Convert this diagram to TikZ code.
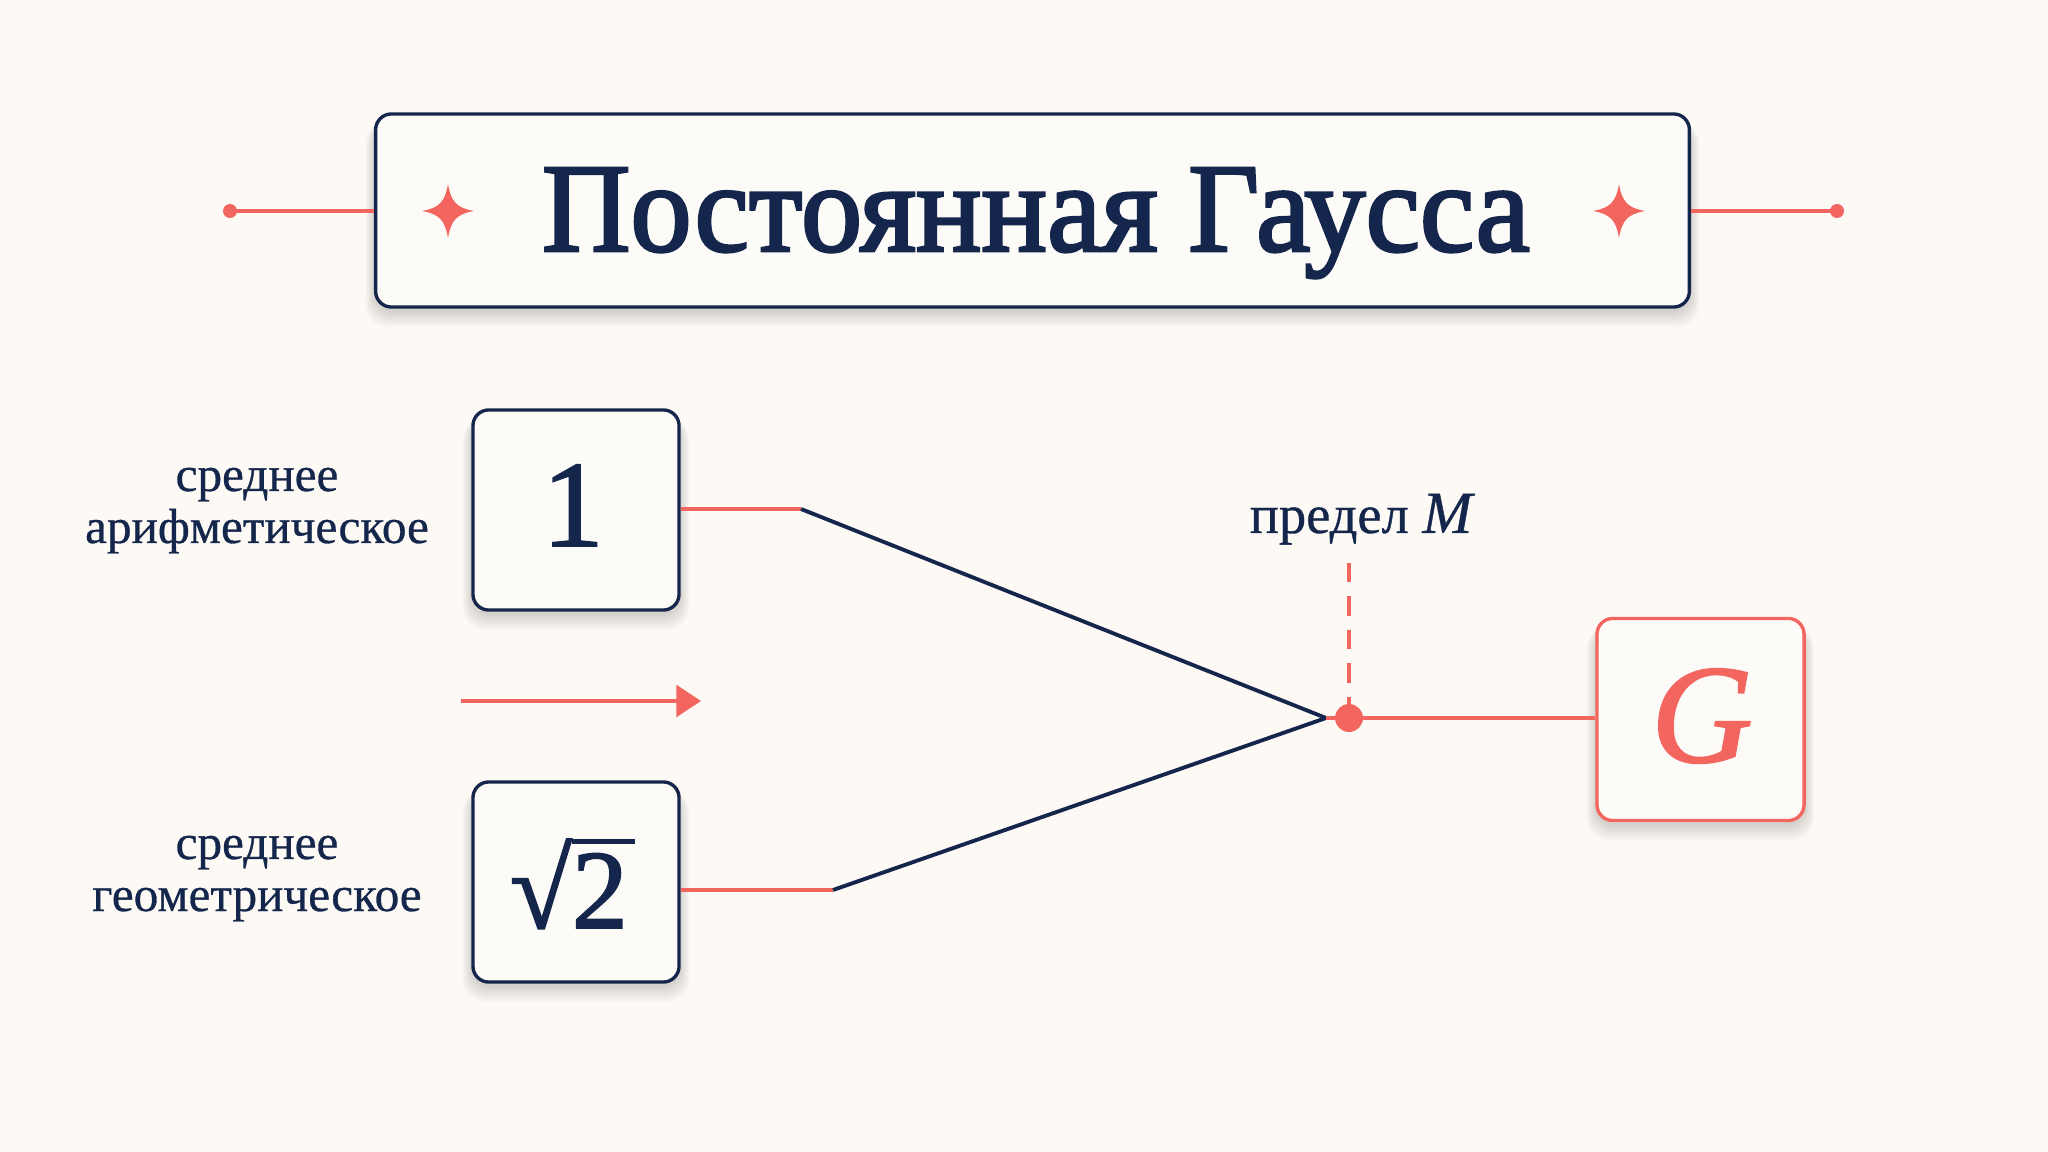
\RequirePackage{fix-cm}
\documentclass[tikz,border=0pt]{standalone}
\usepackage{fontspec}
\setmainfont{Liberation Serif}
\newfontfamily\titlefont{Liberation Serif}[FakeBold=2.2,FakeStretch=0.967]
\newfontfamily\labelfont{Liberation Serif}[FakeBold=0.6]
\newfontfamily\numfont{Liberation Serif}[FakeBold=1.6]
\newfontfamily\gfont{Liberation Serif Italic}[FakeBold=1.4]
\newfontfamily\mfont{Liberation Serif Italic}[FakeBold=0.6]
\usetikzlibrary{arrows.meta,calc}
\pgfdeclarelayer{bglayer}
\pgfdeclarelayer{shadowlayer}
\pgfsetlayers{bglayer,shadowlayer,main}
\definecolor{navy}{HTML}{14264B}
\definecolor{coral}{HTML}{F2665F}
\definecolor{bg}{HTML}{FDFAF6}
\definecolor{cardfill}{HTML}{FDFBF8}
\newcommand\softshadow[1]{%
  \begin{pgfonlayer}{shadowlayer}
  \foreach \k in {0,2,...,14}{%
    \fill[black, opacity=0.018, rounded corners=6pt]
      ($(#1.south west)+(-\k*0.6,4+\k)$) rectangle ($(#1.north east)+(\k*0.6,10)$);}
  \end{pgfonlayer}}
\tikzset{
  card/.style={draw=navy, line width=0.95pt, rounded corners=4.5pt, fill=cardfill, inner sep=0pt},
  numcard/.style={card, minimum width=2.06cm, minimum height=2.0cm, text=navy},
  redline/.style={draw=coral, line width=1pt},
  navyline/.style={draw=navy, line width=1.1pt},
  lbl/.style={text=navy, font=\labelfont\fontsize{14}{14.8}\selectfont, align=center, inner sep=0pt},
  sparkle/.pic={\fill[coral] (0,-27) .. controls (3,-9) and (9,-3) .. (26,0)
      .. controls (9,3) and (3,9) .. (0,27)
      .. controls (-3,9) and (-9,3) .. (-26,0)
      .. controls (-9,-3) and (-3,-9) .. (0,-27) -- cycle;}
}
\begin{document}
\begin{tikzpicture}[x=0.01cm,y=-0.01cm]
\begin{pgfonlayer}{bglayer}
\fill[bg] (0,0) rectangle (2048,1152);
\end{pgfonlayer}
\useasboundingbox (0,0) rectangle (2048,1152);

% title
\node[card, minimum width=13.13cm, minimum height=1.93cm] (title) at (1032.5,210.5) {};
\softshadow{title}
\node[anchor=base, text=navy, inner sep=0pt,
      font=\titlefont\fontsize{36}{40}\selectfont] (titletext) at (1036,251) {Постоянная Гаусса};
\fill[coral] (230,211) circle (7) coordinate (ldot);
\fill[coral] (1837,211) circle (7) coordinate (rdot);
\draw[redline] (ldot) -- (title.west |- ldot);
\draw[redline] (title.east |- rdot) -- (rdot);
\pic at (448,211) {sparkle};
\pic at (1619,211) {sparkle};

% boxes
\node[numcard] (one) at (576,510) {};
\softshadow{one}
\node[anchor=base, text=navy, inner sep=0pt, font=\numfont\fontsize{35}{40}\selectfont] (onetext) at (573,546) {1};
\node[numcard] (root) at (576,882) {};
\softshadow{root}
\node[anchor=base, text=navy, inner sep=0pt, font=\numfont\fontsize{32}{40}\selectfont] (roottext) at (569,928)
  {\setbox0\hbox{√}\copy0\rlap{\raise\dimexpr\ht0-0.045em\relax\hbox{\rule{0.56em}{0.045em}}}2};
\node[card, draw=coral, minimum width=2.07cm, minimum height=2.02cm] (G) at (1700.5,719.5) {};
\softshadow{G}
\node[anchor=base, text=coral, inner sep=0pt, font=\gfont\fontsize{40}{48}\selectfont] (Gtext) at (1702,762) {G};

% labels
\node[lbl, anchor=base] (la) at (257,543) {среднее\\арифметическое};
\node[lbl, anchor=base] (lg) at (257,911) {среднее\\геометрическое};
\node[lbl, anchor=base, font=\labelfont\fontsize{15.5}{16}\selectfont] (lim) at (1361,533) {предел {\mfont\fontsize{17}{18}\selectfont M}};

% arrow
\coordinate (as) at (461,701);
\coordinate (ae) at (701,701);
\draw[redline, -{Triangle[length=7pt,width=9pt]}] (as) -- (ae);

% connectors
\coordinate (k1) at (801,509);
\coordinate (k2) at (833,890);
\coordinate (conv) at (1326,718);
\draw[redline] (one.east |- k1) -- (k1);
\draw[redline] (root.east |- k2) -- (k2);
\draw[navyline, line join=miter] (k1) -- (conv) -- (k2);
\draw[redline] (conv) -- (G.west |- conv);
\coordinate (dtop) at (1349,563);
\fill[coral] (1349,718) circle (14) coordinate (dot);
\draw[redline, dash pattern=on 5.5pt off 4pt] (dtop) -- (dot);
\end{tikzpicture}
\end{document}
